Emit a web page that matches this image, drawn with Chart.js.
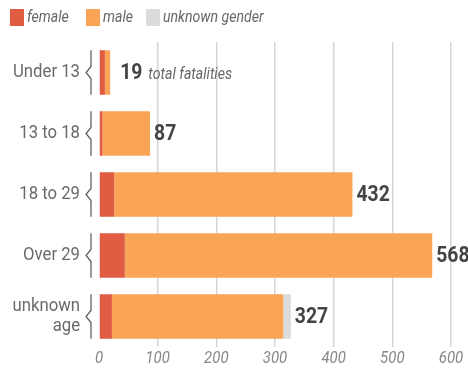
<!DOCTYPE html>
<html><head><meta charset="utf-8">
<script src="https://cdn.jsdelivr.net/npm/chart.js@4/dist/chart.umd.min.js"></script>
<style>html,body{margin:0;padding:0;background:#fff}#w{width:468px;height:371px}</style>
</head><body><div id="w"><canvas id="c"></canvas></div>
<script>
const categories = ['Under 13', '13 to 18', '18 to 29', 'Over 29', ['unknown', 'age']];
const female = [10, 6, 26, 44, 22];
const male = [9, 81, 406, 524, 292];
const unknownGender = [0, 0, 0, 0, 13];
const totals = [19, 87, 432, 568, 327];
const xTicks = [0, 100, 200, 300, 400, 500, 600];

const FONT = 'Roboto, "Liberation Sans", sans-serif';
const K = 0.88; // horizontal condensing to mimic a condensed typeface

const canvas = document.getElementById('c');
const c2d = canvas.getContext('2d');
const origFill = c2d.fillText;
c2d.fillText = function (t, x, y, mw) {
  this.save();
  this.translate(x, y);
  this.scale(K, 1);
  if (mw !== undefined) origFill.call(this, t, 0, 0, mw / K); else origFill.call(this, t, 0, 0);
  this.restore();
};

const legendPlugin = {
  id: 'customLegend',
  afterDraw(chart) {
    const ctx = chart.ctx;
    const xs = [10, 86, 146];
    ctx.save();
    chart.data.datasets.forEach((ds, i) => {
      ctx.fillStyle = ds.backgroundColor;
      ctx.fillRect(xs[i], 9, 14, 17);
      ctx.fillStyle = '#666';
      ctx.font = 'italic 16px ' + FONT;
      ctx.textBaseline = 'middle';
      ctx.textAlign = 'left';
      ctx.fillText(ds.label, xs[i] + 17, 18);
    });
    ctx.restore();
  }
};

const annotPlugin = {
  id: 'annot',
  afterDatasetsDraw(chart) {
    const ctx = chart.ctx;
    const first = chart.getDatasetMeta(0);
    const xs = chart.scales.x;
    ctx.save();
    first.data.forEach((bar, i) => {
      const h = bar.height;
      const top = bar.y - h / 2, bot = bar.y + h / 2;
      const bx = chart.chartArea.left - 8;
      ctx.strokeStyle = '#555';
      ctx.lineWidth = 1.2;
      ctx.beginPath();
      ctx.moveTo(bx, top);
      ctx.lineTo(bx, bar.y - 6);
      ctx.lineTo(bx - 5, bar.y);
      ctx.lineTo(bx, bar.y + 6);
      ctx.lineTo(bx, bot);
      ctx.stroke();
      const endX = xs.getPixelForValue(totals[i]);
      ctx.fillStyle = '#444';
      ctx.font = 'bold 22px ' + FONT;
      ctx.textBaseline = 'middle';
      ctx.textAlign = 'left';
      const gap = i === 0 ? 10 : 4;
      const txt = String(totals[i]);
      ctx.fillText(txt, endX + gap, bar.y + 1);
      if (i === 0) {
        const w = ctx.measureText(txt).width * K;
        ctx.fillStyle = '#666';
        ctx.font = 'italic 16px ' + FONT;
        ctx.fillText('total fatalities', endX + gap + w + 6, bar.y + 2);
      }
    });
    ctx.restore();
  }
};

new Chart(c2d, {
  type: 'bar',
  data: {
    labels: categories,
    datasets: [
      { label: 'female', data: female, backgroundColor: '#E05C42' },
      { label: 'male', data: male, backgroundColor: '#F9A457' },
      { label: 'unknown gender', data: unknownGender, backgroundColor: '#DBDBDB' }
    ]
  },
  options: {
    indexAxis: 'y',
    responsive: true,
    maintainAspectRatio: false,
    animation: false,
    layout: { padding: { top: 42, right: 17, left: 0, bottom: 0 } },
    datasets: { bar: { categoryPercentage: 1, barPercentage: 0.73 } },
    plugins: { legend: { display: false }, tooltip: { enabled: false } },
    scales: {
      x: {
        stacked: true, min: 0, max: 600,
        afterBuildTicks(s) { s.ticks = xTicks.map(v => ({ value: v })); },
        afterFit(s) { s.height = 24; s.paddingLeft = 0; s.paddingRight = 0; },
        border: { display: false },
        grid: { drawTicks: false, lineWidth: 1.5, color: c => (c.tick && c.tick.value === 0) ? 'rgba(0,0,0,0)' : '#D6D6D6' },
        ticks: { padding: 2, color: '#888', font: { family: FONT, size: 17, style: 'italic' } }
      },
      y: {
        stacked: true,
        afterFit(s) { s.width = 99; s.paddingTop = 0; s.paddingBottom = 0; },
        border: { display: false },
        grid: { display: false, drawTicks: false },
        ticks: { padding: 19, color: '#6a6a6a', font: { family: FONT, size: 19, lineHeight: 1.05 } }
      }
    }
  },
  plugins: [legendPlugin, annotPlugin]
});
</script>
</body></html>
